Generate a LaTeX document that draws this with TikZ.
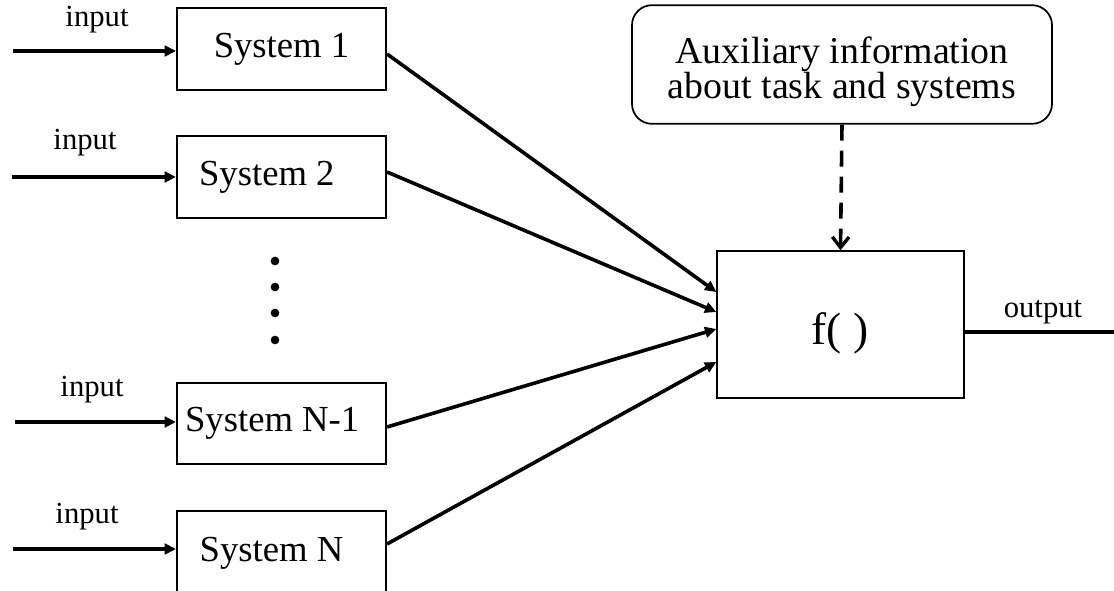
\documentclass[tikz,border=0pt]{standalone}
\usepackage{fontspec}
\setmainfont{Liberation Serif}
\usetikzlibrary{arrows.meta}
\begin{document}
\begin{tikzpicture}[x=0.75pt,y=-0.75pt,
  sysbox/.style={draw,line width=1.3pt,minimum width=157pt,inner sep=0pt,
    font=\fontsize{27.5}{30}\selectfont},
  inlabel/.style={inner sep=0pt,font=\fontsize{23}{26}\selectfont},
  feed/.style={line width=2.7pt,-{Triangle[length=8.5pt,width=8pt]}},
  dotmark/.style={circle,fill,inner sep=0pt,minimum size=6.5pt}]
\clip (0,0) rectangle (1114,591);
\fill[white] (0,0) rectangle (1114,591);

% the individual systems
\node[sysbox,minimum height=61.5pt] (s1) at (281.5,49) {System 1};
\node[sysbox,minimum height=61.5pt] (s2) at (281.5,177) {System 2\kern22pt};
\node[sysbox,minimum height=61pt] (s3) at (281.5,423.5) {System N-1\kern14pt};
\node[sysbox,minimum height=63pt] (s4) at (281.5,553) {System N\kern15pt};

% vertical ellipsis between the systems
\node[dotmark] (d1) at (275,261) {};
\node[dotmark] (d2) at (275,287) {};
\node[dotmark] (d3) at (275,313) {};
\node[dotmark] (d4) at (275,340) {};

% inputs
\coordinate (i1) at (13,51);
\coordinate (i2) at (12,177);
\coordinate (i3) at (15,422);
\coordinate (i4) at (13,549);
\draw[feed] (i1) -- (i1 -| s1.west);
\draw[feed] (i2) -- (i2 -| s2.west);
\draw[feed] (i3) -- (i3 -| s3.west);
\draw[feed] (i4) -- (i4 -| s4.west);
\node[inlabel] (l1) at (97,20) {input};
\node[inlabel] (l2) at (85,143) {input};
\node[inlabel] (l3) at (92,390) {input};
\node[inlabel] (l4) at (87,517) {input};

% combination function
\node[draw,line width=1.3pt,minimum width=185pt,minimum height=110pt,inner sep=0pt] (f) at (840.5,324.5) {};
\node[inner sep=0pt,font=\fontsize{34}{36}\selectfont] (ft) at (840,333) {f( )};

% auxiliary information
\node[draw,line width=1.3pt,rounded corners=15pt,minimum width=315pt,minimum height=89pt,
  inner sep=0pt] (aux) at (842,64.5) {};
\node[inner sep=0pt,align=center,font=\fontsize{28.4}{26.5}\selectfont] (auxt) at (842,72)
  {Auxiliary information\\about task and systems};
\draw[line width=2.7pt,dash pattern=on 12pt off 7.5pt,
  -{Straight Barb[length=8pt,width=12.5pt,line width=2.5pt]}] (aux.south) -- (f.north);

% system outputs into f
\draw[feed] (s1.east |- 0,54) -- (f.west |- 0,292);
\draw[feed] (s2.east |- 0,172) -- (f.west |- 0,312);
\draw[feed] (s3.east |- 0,427) -- (f.west |- 0,329);
\draw[feed] (s4.east |- 0,544) -- (f.west |- 0,362);

% final output
\coordinate (o) at (1114,332);
\draw[line width=2.7pt] (o -| f.east) -- (o);
\node[inlabel] (ol) at (1043,312) {output};
\end{tikzpicture}
\end{document}
